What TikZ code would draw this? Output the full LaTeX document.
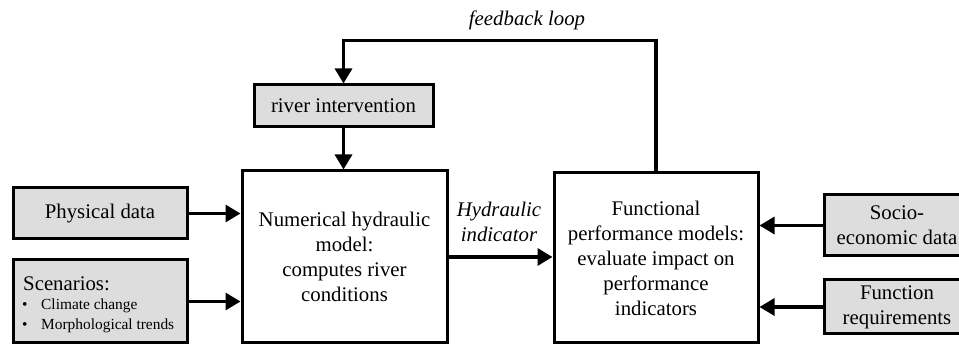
\documentclass[tikz,border=0pt]{standalone}
\usepackage{fontspec}
\setmainfont{Liberation Serif}
\usetikzlibrary{arrows.meta,calc}
\definecolor{boxfill}{RGB}{221,221,221}
\tikzset{
  blk/.style={draw=black, line width=3pt, rectangle, inner sep=0pt, align=center,
    font=\fontsize{20.8}{25}\selectfont},
  inbox/.style={blk, fill=boxfill},
  modelbox/.style={blk, fill=white},
  flow/.style={line width=3.2pt, -{Triangle[length=15pt,width=17pt]}},
  lbl/.style={inner sep=0pt, font=\fontsize{20.8}{25}\selectfont\itshape, align=center},
  smalltxt/.style={inner sep=0pt, anchor=west, font=\fontsize{15.4}{18}\selectfont}
}
\begin{document}
\begin{tikzpicture}[x=1pt,y=-1pt]
  \useasboundingbox (0,0) rectangle (959,347);
  \clip (0,0) rectangle (959,347);

  % input boxes on the left
  \node[inbox, minimum width=174pt, minimum height=51pt] (phys) at (100,213.5) {Physical data};
  \node[inbox, minimum width=174pt, minimum height=83pt] (scen) at (100,301.5) {};
  \node[inner sep=0pt, anchor=west, font=\fontsize{20.8}{25}\selectfont] (scentitle) at (23,284) {Scenarios:};
  \node[smalltxt] (b1) at (22,306) {\textbullet};
  \node[smalltxt] (s1) at (41,306) {Climate change};
  \node[smalltxt] (b2) at (22,326) {\textbullet};
  \node[smalltxt] (s2) at (41,326) {Morphological trends};

  % intervention box
  \node[inbox, minimum width=179pt, minimum height=42pt] (ri) at (343.5,106) {river intervention};

  % model boxes
  \node[modelbox, minimum width=205pt, minimum height=172pt] (num) at (344.5,257)
    {Numerical hydraulic\\model:\\computes river\\conditions};
  \node[modelbox, minimum width=204pt, minimum height=170pt] (func) at (656,258)
    {Functional\\performance models:\\evaluate impact on\\performance\\indicators};

  % input boxes on the right (running past the edge)
  \node[inbox, minimum width=146pt, minimum height=61pt] (socio) at (897,225.5) {Socio-\\economic data};
  \node[inbox, minimum width=146pt, minimum height=54pt] (freq) at (897,307) {Function\\requirements};

  % connectors
  \draw[flow] (phys.east) -- (phys.east -| num.west);
  \draw[flow] (scen.east) -- (scen.east -| num.west);
  \draw[flow] (ri.south) -- (ri.south |- num.north);
  \draw[flow] (num.east) -- (num.east -| func.west);
  \draw[flow] (socio.west) -- (socio.west -| func.east);
  \draw[flow] (freq.west) -- (freq.west -| func.east);

  % feedback loop: up from the performance models, across, down to the intervention
  \coordinate (fbr) at ($(func.north)+(0,-131)$);
  \coordinate (fbl) at (fbr -| ri.north);
  \draw[flow] (func.north) -- (fbr) -- (fbl) -- (ri.north);

  % labels
  \node[lbl] (fblabel) at (527,20) {feedback loop};
  \node[lbl] (hyd) at (499,222) {Hydraulic\\indicator};
\end{tikzpicture}
\end{document}
